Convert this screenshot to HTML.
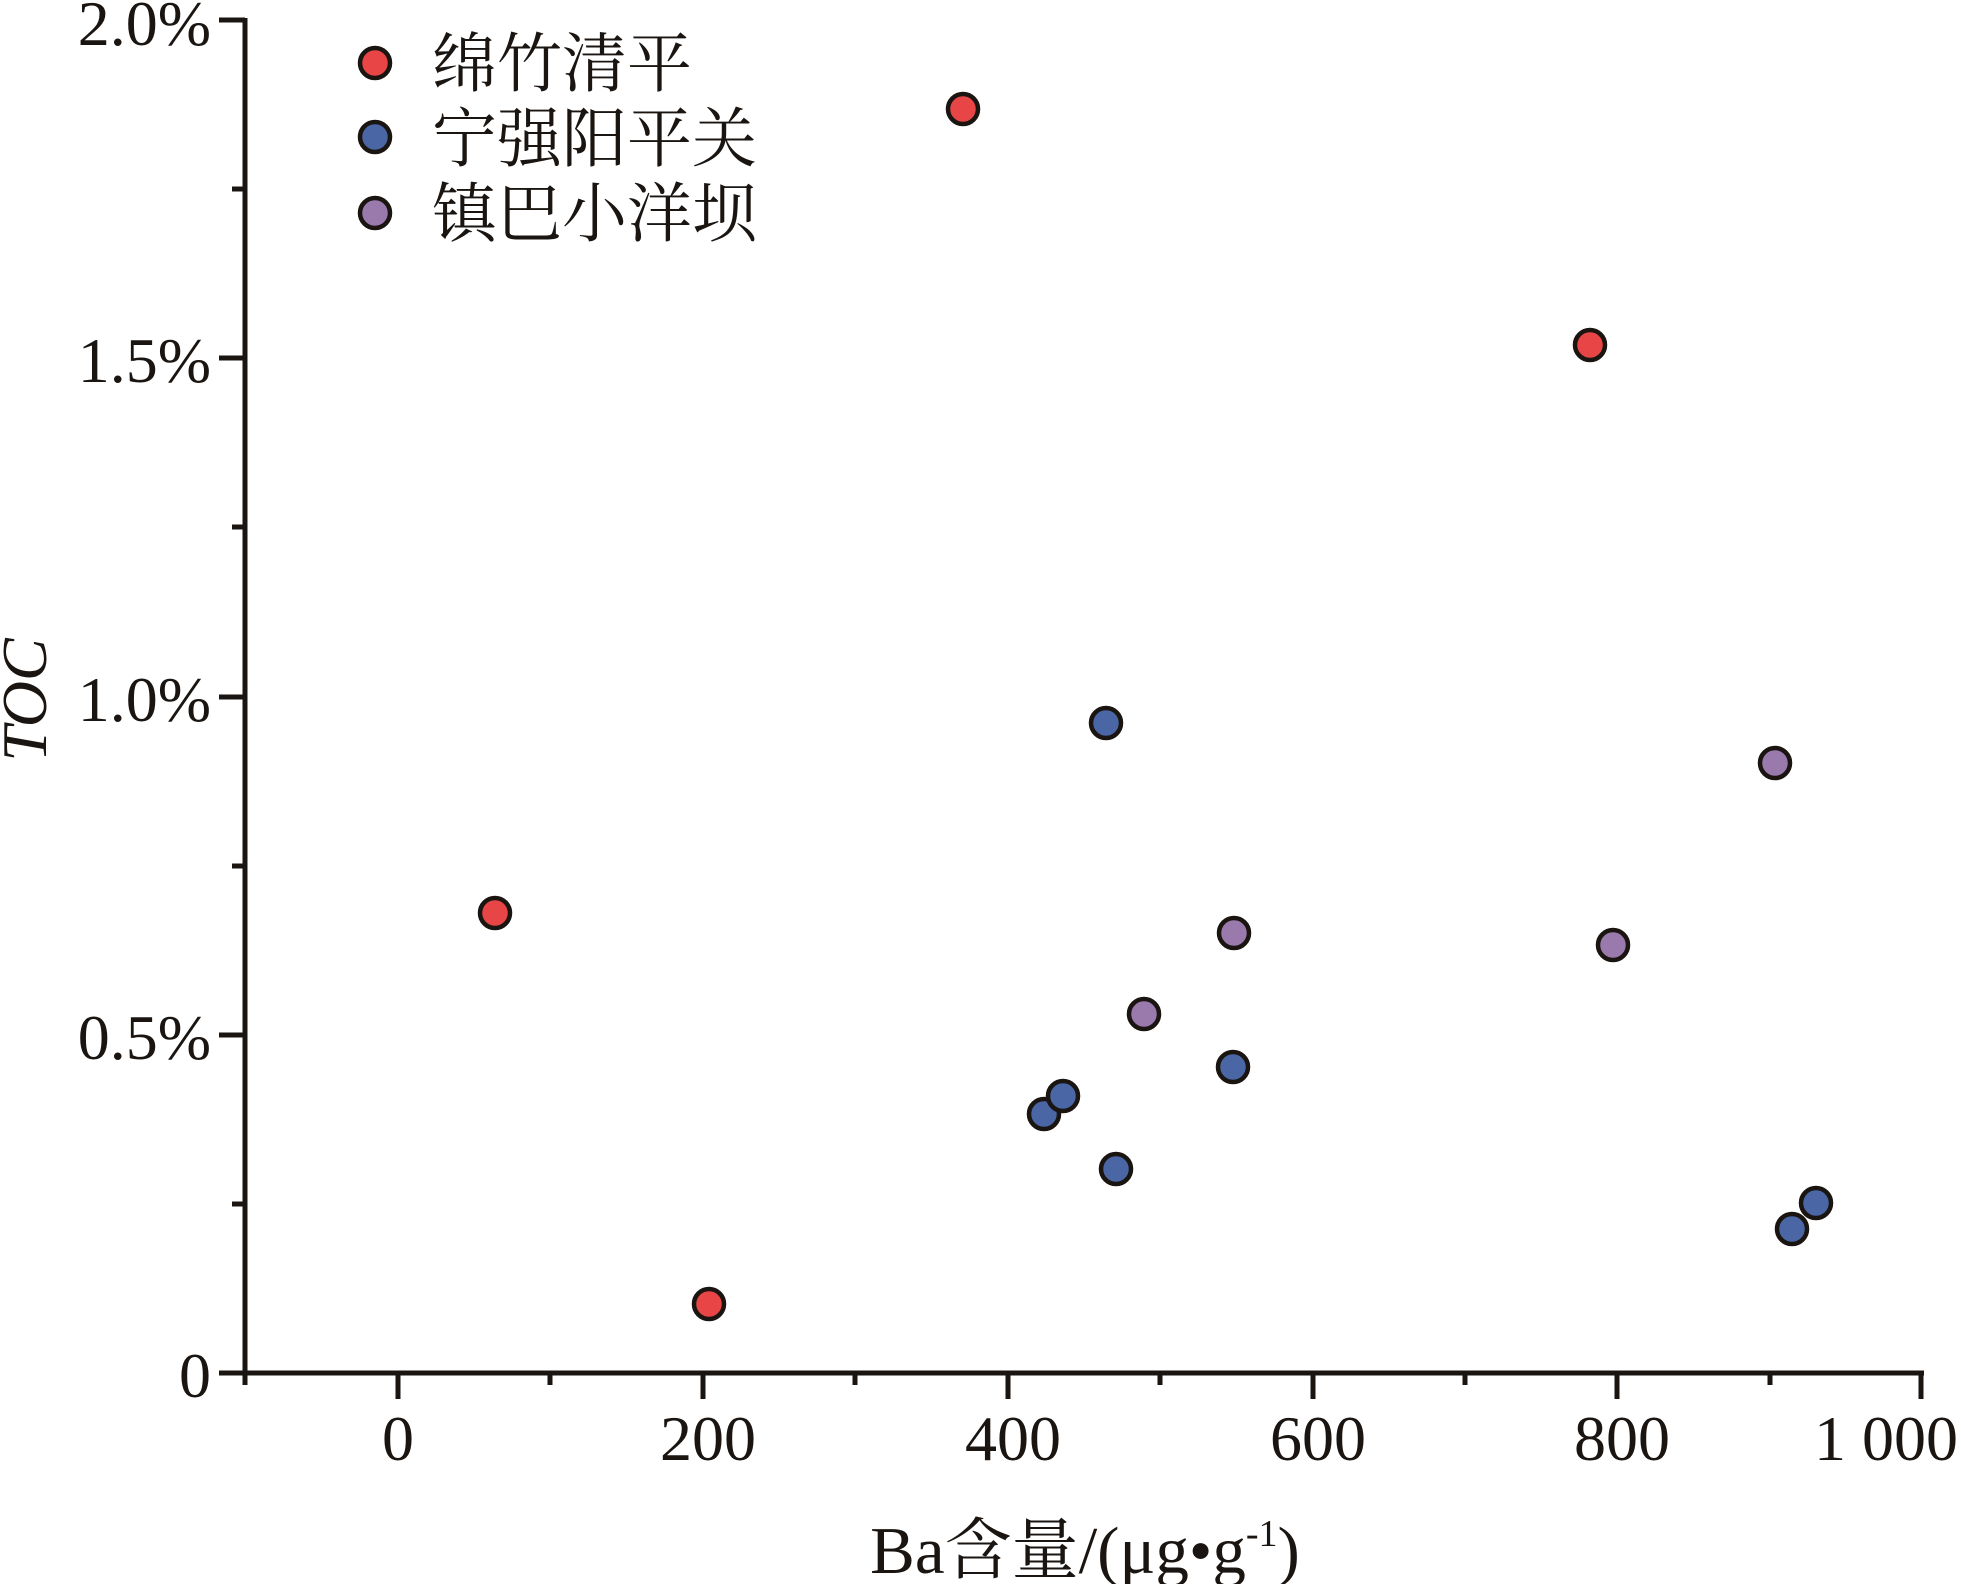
<!DOCTYPE html>
<html><head><meta charset="utf-8"><style>html,body{margin:0;padding:0;background:#fff}svg{display:block}</style></head>
<body>
<svg width="1961" height="1584" xmlns="http://www.w3.org/2000/svg" font-family="'Liberation Serif','Noto Serif CJK SC',serif" fill="#1a1511">
<g stroke="#1a1511" stroke-width="5" fill="none">
<line x1="245" y1="18" x2="245" y2="1376"/>
<line x1="243" y1="1373" x2="1924" y2="1373"/>
<line x1="219" y1="20" x2="245" y2="20"/>
<line x1="232" y1="189" x2="245" y2="189"/>
<line x1="219" y1="358" x2="245" y2="358"/>
<line x1="232" y1="527" x2="245" y2="527"/>
<line x1="219" y1="697" x2="245" y2="697"/>
<line x1="232" y1="866" x2="245" y2="866"/>
<line x1="219" y1="1035" x2="245" y2="1035"/>
<line x1="232" y1="1204" x2="245" y2="1204"/>
<line x1="219" y1="1373" x2="245" y2="1373"/>
<line x1="245" y1="1373" x2="245" y2="1385"/>
<line x1="398" y1="1373" x2="398" y2="1399"/>
<line x1="550" y1="1373" x2="550" y2="1385"/>
<line x1="703" y1="1373" x2="703" y2="1399"/>
<line x1="855" y1="1373" x2="855" y2="1385"/>
<line x1="1008" y1="1373" x2="1008" y2="1399"/>
<line x1="1160" y1="1373" x2="1160" y2="1385"/>
<line x1="1313" y1="1373" x2="1313" y2="1399"/>
<line x1="1465" y1="1373" x2="1465" y2="1385"/>
<line x1="1617" y1="1373" x2="1617" y2="1399"/>
<line x1="1770" y1="1373" x2="1770" y2="1385"/>
<line x1="1921" y1="1373" x2="1921" y2="1399"/>
</g>
<g font-size="64" text-anchor="end">
<text x="211" y="45">2.0%</text>
<text x="211" y="382">1.5%</text>
<text x="211" y="721">1.0%</text>
<text x="211" y="1059">0.5%</text>
<text x="211" y="1397">0</text>
</g>
<g font-size="64" text-anchor="middle">
<text x="398" y="1460">0</text>
<text x="708" y="1460">200</text>
<text x="1013" y="1460">400</text>
<text x="1318" y="1460">600</text>
<text x="1622" y="1460">800</text>
<text x="1886" y="1460">1 000</text>
<text x="1085" y="1573" font-size="67">Ba含量/(μg•g<tspan font-size="38" dy="-27">-1</tspan><tspan dy="27">)</tspan></text>
</g>
<text transform="translate(46,700) rotate(-90)" font-size="64" font-style="italic" text-anchor="middle">TOC</text>
<g stroke="#1a1511" stroke-width="4.5">
<circle cx="375" cy="63" r="15" fill="#e84646"/>
<circle cx="375" cy="137" r="15" fill="#4a66a4"/>
<circle cx="375" cy="213" r="15" fill="#9a7aad"/>
<g fill="#e84646">
<circle cx="963" cy="109" r="15"/><circle cx="1590" cy="345" r="15"/><circle cx="495" cy="913" r="15"/><circle cx="709" cy="1304" r="15"/>
</g>
<g fill="#4a66a4">
<circle cx="1106" cy="723" r="15"/><circle cx="1044" cy="1114" r="15"/><circle cx="1063" cy="1096" r="15"/><circle cx="1116" cy="1169" r="15"/><circle cx="1233" cy="1067" r="15"/><circle cx="1792" cy="1229" r="15"/><circle cx="1816" cy="1203" r="15"/>
</g>
<g fill="#9a7aad">
<circle cx="1775" cy="763" r="15"/><circle cx="1234" cy="933" r="15"/><circle cx="1144" cy="1014" r="15"/><circle cx="1613" cy="945" r="15"/>
</g>
</g>
<g font-size="65" font-family="'Liberation Serif','Noto Serif CJK SC',serif">
<text x="432" y="86">绵竹清平</text>
<text x="432" y="161">宁强阳平关</text>
<text x="432" y="236">镇巴小洋坝</text>
</g>
</svg>
</body></html>
